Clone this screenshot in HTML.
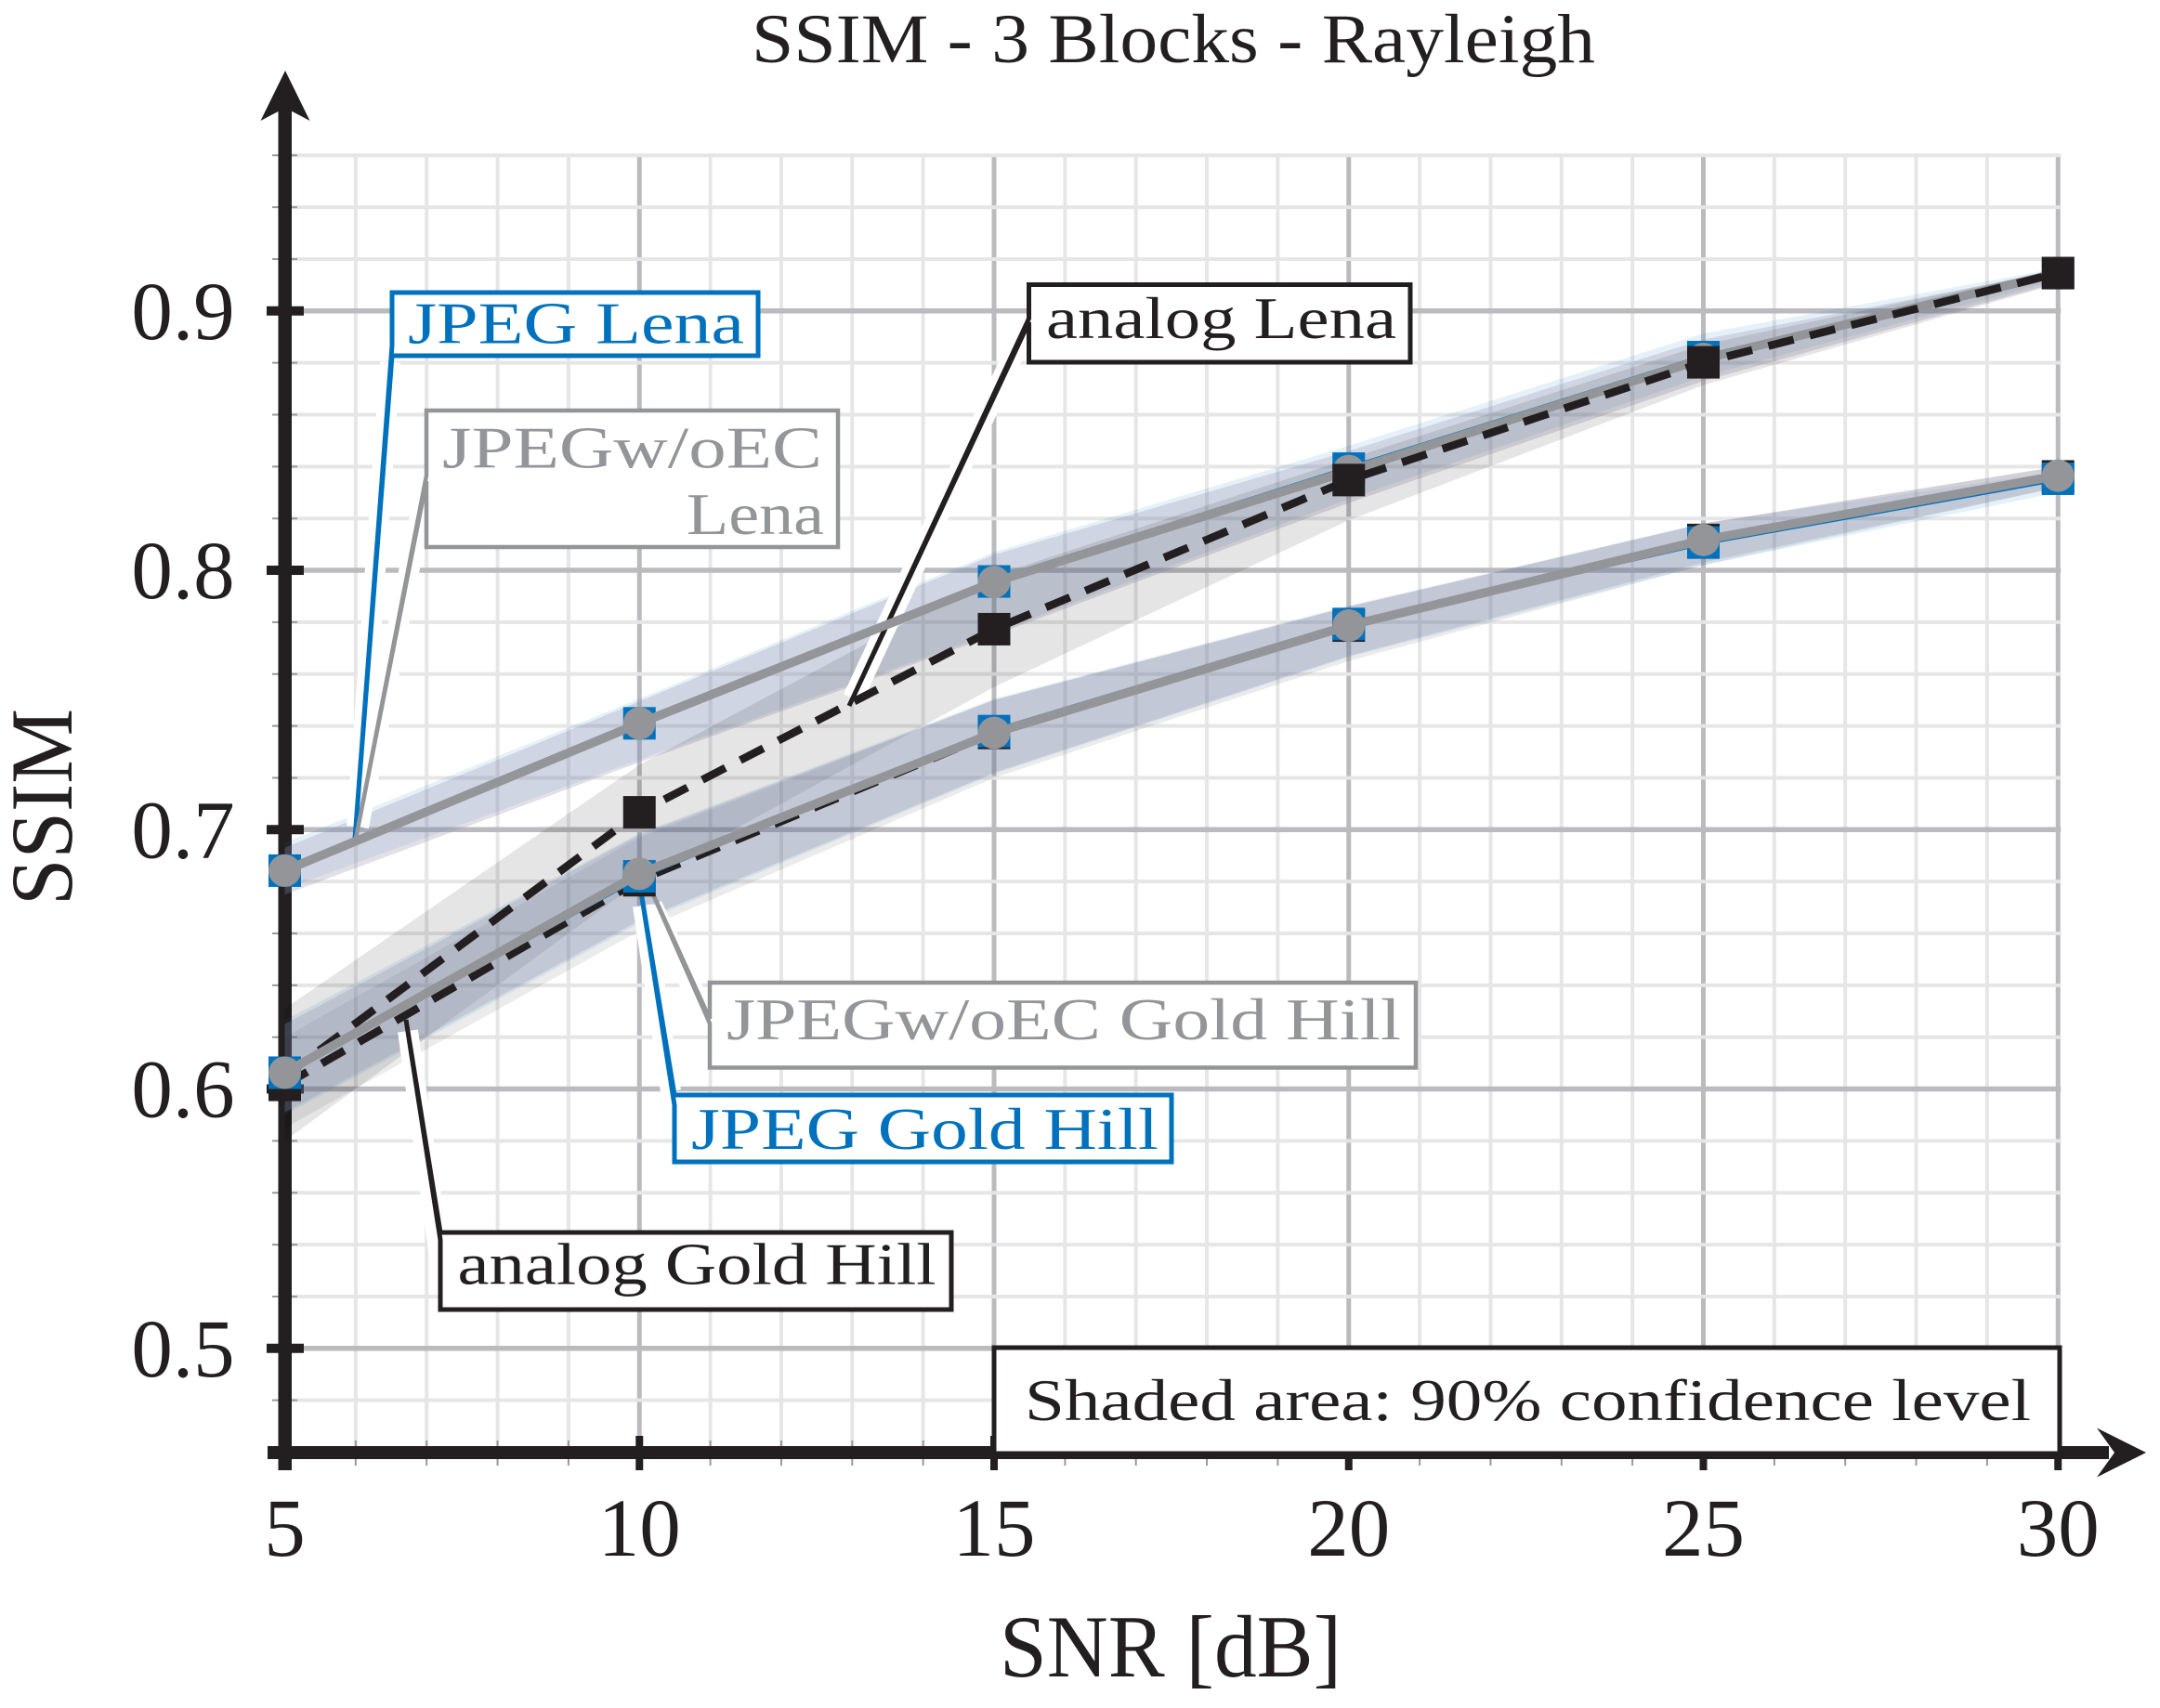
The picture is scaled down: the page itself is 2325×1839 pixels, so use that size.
<!DOCTYPE html>
<html>
<head>
<meta charset="utf-8">
<title>SSIM - 3 Blocks - Rayleigh</title>
<style>
html,body{margin:0;padding:0;background:#fff;width:2325px;height:1839px;overflow:hidden}
svg{display:block}
text{font-family:"Liberation Serif",serif;fill:#231f20}
</style>
</head>
<body>
<svg id="chart" xmlns="http://www.w3.org/2000/svg" width="2325" height="1839" viewBox="0 0 2325 1839">
  <g id="grid"></g>
  <g id="axes"></g>
  <g id="bands"></g>
  <g id="note">
    <rect x="1070" y="1451" width="1147" height="114" fill="#fff" stroke="#231f20" stroke-width="5"/>
    <text x="1103" y="1529" font-size="64" textLength="1083" lengthAdjust="spacingAndGlyphs">Shaded area: 90% confidence level</text>
  </g>
  <g id="casings" stroke="#fff" stroke-width="22" fill="none">
    <line x1="384" y1="890" x2="420" y2="390"/>
    <line x1="386" y1="890" x2="457" y2="530"/>
    <line x1="918" y1="752" x2="1100" y2="362"/>
    <line x1="439" y1="1110" x2="472" y2="1345"/>
    <line x1="692" y1="975" x2="722" y2="1175"/>
    <line x1="702" y1="975" x2="760" y2="1095"/>
  </g>
  <g id="callouts" fill="#fff" stroke-miterlimit="2">
    <g>
      <path d="M422,315 L816,315 L816,383 L422,383 L382,903 L422,372 Z" stroke="#0072bd" stroke-width="5"/>
      <text x="439" y="369.5" font-size="64" textLength="362" lengthAdjust="spacingAndGlyphs" style="fill:#0072bd">JPEG Lena</text>
    </g>
    <g>
      <path d="M459,442 L902,442 L902,589 L459,589 L459,518 L383,903 L459,512 Z" stroke="#939598" stroke-width="4.5"/>
      <text x="476" y="503.5" font-size="64" textLength="409" lengthAdjust="spacingAndGlyphs" style="fill:#939598">JPEGw/oEC</text>
      <text x="739" y="575" font-size="64" textLength="148" lengthAdjust="spacingAndGlyphs" style="fill:#939598">Lena</text>
    </g>
    <g>
      <path d="M1107.5,306.5 L1518,306.5 L1518,390 L1107.5,390 L1107.5,347 L914,760 L1107.5,343 Z" stroke="#231f20" stroke-width="5"/>
      <text x="1126" y="364" font-size="64" textLength="377" lengthAdjust="spacingAndGlyphs">analog Lena</text>
    </g>
    <g>
      <path d="M764,1058 L1524,1058 L1524,1149.5 L764,1149.5 L764,1102 L695,945 L764,1097 Z" stroke="#939598" stroke-width="4.5"/>
      <text x="782" y="1119" font-size="64" textLength="726" lengthAdjust="spacingAndGlyphs" style="fill:#939598">JPEGw/oEC Gold Hill</text>
    </g>
    <g>
      <path d="M726,1179 L1261,1179 L1261,1251 L726,1251 L726,1190 L690,960 Z" stroke="#0072bd" stroke-width="5"/>
      <text x="744" y="1237" font-size="64" textLength="503" lengthAdjust="spacingAndGlyphs" style="fill:#0072bd">JPEG Gold Hill</text>
    </g>
    <g>
      <path d="M474,1327 L1024,1327 L1024,1410 L474,1410 L474,1335 L437,1098 Z" stroke="#231f20" stroke-width="5"/>
      <text x="492.5" y="1382.5" font-size="64" textLength="515" lengthAdjust="spacingAndGlyphs">analog Gold Hill</text>
    </g>
  </g>
  <g id="series"></g>
  <text x="809" y="67" font-size="75" textLength="908" lengthAdjust="spacingAndGlyphs">SSIM - 3 Blocks - Rayleigh</text>
  <text x="1076" y="1805" font-size="95" textLength="368" lengthAdjust="spacingAndGlyphs">SNR [dB]</text>
  <text transform="translate(77,975) rotate(-90)" x="0" y="0" font-size="95" textLength="212" lengthAdjust="spacingAndGlyphs">SSIM</text>
</svg>
<script>
const snr = [5, 10, 15, 20, 25, 30];
const xTickValues = [5, 10, 15, 20, 25, 30];
const xTickLabels = ['5', '10', '15', '20', '25', '30'];
const yTickValues = [0.5, 0.6, 0.7, 0.8, 0.9];
const yTickLabels = ['0.5', '0.6', '0.7', '0.8', '0.9'];

const jpegLena = [0.6842, 0.7410, 0.7957, 0.8392, 0.8822, 0.9146];
const jpegLenaLow = [0.6771, 0.7270, 0.7760, 0.8275, 0.8748, 0.9120];
const jpegLenaHigh = [0.6949, 0.7505, 0.8070, 0.8480, 0.8913, 0.9165];

const woecLena = [0.6842, 0.7410, 0.7955, 0.8383, 0.8815, 0.9146];
const woecLenaLow = [0.6750, 0.7260, 0.7750, 0.8260, 0.8730, 0.9110];
const woecLenaHigh = [0.6930, 0.7495, 0.8060, 0.8460, 0.8890, 0.9155];

const analogLena = [0.6050, 0.7067, 0.7773, 0.8348, 0.8802, 0.9146];
const analogLenaLow = [0.5800, 0.6800, 0.7550, 0.8193, 0.8714, 0.9105];
const analogLenaHigh = [0.6310, 0.7250, 0.7980, 0.8430, 0.8870, 0.9160];

const jpegGold = [0.6063, 0.6820, 0.7380, 0.7793, 0.8107, 0.8353];
const jpegGoldLow = [0.5900, 0.6640, 0.7215, 0.7666, 0.8020, 0.8300];
const jpegGoldHigh = [0.6265, 0.6986, 0.7505, 0.7864, 0.8182, 0.8380];

const woecGold = [0.6063, 0.6830, 0.7373, 0.7787, 0.8117, 0.8365];
const woecGoldLow = [0.5910, 0.6650, 0.7220, 0.7670, 0.8030, 0.8320];
const woecGoldHigh = [0.6250, 0.6980, 0.7500, 0.7860, 0.8180, 0.8400];

const analogGold = [0.6016, 0.6805, 0.7373, 0.7787, 0.8117, 0.8362];
const analogGoldLow = [0.5850, 0.6610, 0.7200, 0.7650, 0.8020, 0.8320];
const analogGoldHigh = [0.6200, 0.6970, 0.7500, 0.7860, 0.8180, 0.8400];

const SVGNS = 'http://www.w3.org/2000/svg';
const xMin = 5, xMax = 30, yMin = 0.46, yMax = 0.96;
const BLACK = '#231f20', BLUE = '#0072bd', GRAY = '#939598';
function xs(v) { return 306.5 + (v - 5) * 76.35; }
function ys(v) { return 1451.8 - (v - 0.5) * 2792.5; }
function make(tag, parent, attrs) {
  const el = document.createElementNS(SVGNS, tag);
  for (const k in attrs) el.setAttribute(k, attrs[k]);
  parent.appendChild(el);
  return el;
}
const grid = document.getElementById('grid');
const axes = document.getElementById('axes');
const bands = document.getElementById('bands');
const seriesLayer = document.getElementById('series');

for (let i = 0; i <= 25; i++) {
  const v = xMin + i;
  const major = i % 5 === 0;
  const line = make('line', grid, { x1: xs(v), x2: xs(v), y1: ys(yMax), y2: ys(yMin), stroke: major ? '#bbbbbf' : '#e6e6e6', 'stroke-width': major ? 5 : 4 });
  
  
}
for (let i = 0; i <= 25; i++) {
  const v = yMin + i * 0.02;
  const major = (i - 2) % 5 === 0;
  const line = make('line', grid, { x1: xs(xMin), x2: xs(xMax) + 3, y1: ys(v), y2: ys(v), stroke: major ? '#bbbbbf' : '#e6e6e6', 'stroke-width': major ? 5.5 : 4 });
  
  
}

for (let i = 0; i <= 25; i++) {
  const v = yMin + i * 0.02;
  if ((i - 2) % 5 === 0) continue;
  const t = make('line', axes, { x1: 293, x2: 320, y1: ys(v), y2: ys(v), stroke: '#999999', 'stroke-width': 2 });
  
  
}
for (let i = 0; i <= 25; i++) {
  if (i % 5 === 0) continue;
  const t = make('line', axes, { x1: xs(xMin + i), x2: xs(xMin + i), y1: 1551, y2: 1578, stroke: '#999999', 'stroke-width': 2 });
  
  
}
const yAxisLine = make('rect', axes, { x: 299.5, y: 110, width: 14.5, height: 1473, fill: BLACK });


const yArrow = make('path', axes, { d: 'M307,76 L333.5,130 L307,116 L280.5,130 Z', fill: BLACK });


const xAxisLine = make('rect', axes, { x: 288, y: 1557, width: 1982, height: 14, fill: BLACK });


const xArrow = make('path', axes, { d: 'M2310,1564 L2257,1590.5 L2276,1564 L2257,1537.5 Z', fill: BLACK });



yTickValues.forEach(function (v, i) {
  const t = make('line', axes, { x1: 287, x2: 327, y1: ys(v), y2: ys(v), stroke: BLACK, 'stroke-width': 10 });
  
  
  const lab = make('text', axes, { x: 197, y: ys(v) + 30, 'font-size': 89, 'text-anchor': 'middle' });
  lab.textContent = yTickLabels[i];
  
  
});
xTickValues.forEach(function (v, i) {
  const t = make('line', axes, { x1: xs(v), x2: xs(v), y1: 1546, y2: 1583, stroke: BLACK, 'stroke-width': 8 });
  
  
  const lab = make('text', axes, { x: xs(v), y: 1675, 'font-size': 89, 'text-anchor': 'middle' });
  lab.textContent = xTickLabels[i];
  
  
});

function drawBand(name, low, high, fill, opacity) {
  let d = '';
  snr.forEach(function (v, i) { d += (i ? 'L' : 'M') + xs(v) + ',' + ys(high[i]) + ' '; });
  for (let i = snr.length - 1; i >= 0; i--) d += 'L' + xs(snr[i]) + ',' + ys(low[i]) + ' ';
  const p = make('path', bands, { d: d + 'Z', fill: fill, 'fill-opacity': opacity });
  
  
}
drawBand('band-jpeg-lena', jpegLenaLow, jpegLenaHigh, '#0072bd', 0.1);
drawBand('band-woec-lena', woecLenaLow, woecLenaHigh, '#968caa', 0.28);
drawBand('band-analog-lena', analogLenaLow, analogLenaHigh, '#000000', 0.1);
drawBand('band-analog-gold', analogGoldLow, analogGoldHigh, '#000000', 0.08);
drawBand('band-jpeg-gold', jpegGoldLow, jpegGoldHigh, '#0072bd', 0.1);
drawBand('band-woec-gold', woecGoldLow, woecGoldHigh, '#968caa', 0.28);

function polyPoints(values) {
  return snr.map(function (v, i) { return xs(v) + ',' + ys(values[i]); }).join(' ');
}
function drawSeries(name, values, color, width, dash, marker) {
  const g = make('g', seriesLayer, {});
  
  
  const attrs = { points: polyPoints(values), fill: 'none', stroke: color, 'stroke-width': width };
  if (dash) attrs['stroke-dasharray'] = dash;
  const line = make('polyline', g, attrs);
  
  
  snr.forEach(function (v, i) {
    let m;
    if (marker === 'circle') {
      m = make('circle', g, { cx: xs(v), cy: ys(values[i]), r: 17.5, fill: color });
    } else {
      m = make('rect', g, { x: xs(v) - 17.5, y: ys(values[i]) - 17.5, width: 35, height: 35, fill: color });
    }
    
    
  });
}
drawSeries('jpeg-lena', jpegLena, BLUE, 6, null, 'square');
drawSeries('woec-lena', woecLena, GRAY, 9.5, null, 'circle');
drawSeries('analog-lena', analogLena, BLACK, 8.5, '28 18', 'square');
drawSeries('analog-gold', analogGold, BLACK, 8.5, '28 18', 'square');
drawSeries('jpeg-gold', jpegGold, BLUE, 6, null, 'square');
drawSeries('woec-gold', woecGold, GRAY, 9.5, null, 'circle');
</script>
</body>
</html>
